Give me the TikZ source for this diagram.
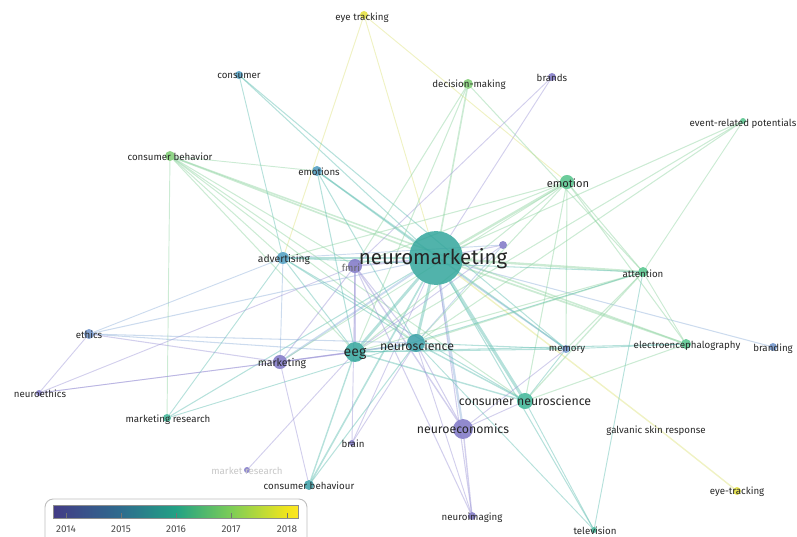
\documentclass[tikz,border=0pt]{standalone}
\usepackage{fontspec}
\setmainfont{Fira Sans}
\usetikzlibrary{backgrounds}

% node colours (by average year)
\definecolor{cpur}{HTML}{7E76C6}
\definecolor{cblu}{HTML}{6E93CB}
\definecolor{cblt}{HTML}{4C9CC0}
\definecolor{cteal}{HTML}{33A69C}
\definecolor{cteal2}{HTML}{3A9FA8}
\definecolor{ctg}{HTML}{3DB596}
\definecolor{cgt}{HTML}{52C38A}
\definecolor{cgrn}{HTML}{7DCC72}
\definecolor{cyel}{HTML}{E4E03A}
% link colours
\definecolor{eteal}{HTML}{5DBDB0}
\definecolor{egrn}{HTML}{8ED3A0}
\definecolor{epur}{HTML}{9C95D6}
\definecolor{eblu}{HTML}{8FB0DA}
\definecolor{eyel}{HTML}{DDE27A}
% colour bar
\definecolor{vb0}{HTML}{433B86}
\definecolor{vb1}{HTML}{2E6C8E}
\definecolor{vb2}{HTML}{22A184}
\definecolor{vb3}{HTML}{7CCD57}
\definecolor{vb4}{HTML}{F1E51D}
\definecolor{vb5}{HTML}{FDE725}
\pgfdeclarehorizontalshading{viridisbar}{100bp}{color(0bp)=(vb0); color(25bp)=(vb0); color(38.9bp)=(vb1); color(50.1bp)=(vb2); color(61.3bp)=(vb3); color(72.8bp)=(vb4); color(75bp)=(vb5); color(100bp)=(vb5)}

\tikzset{
  kw/.style={circle, inner sep=0pt, draw=none, fill opacity=0.85},
  lbl/.style={inner sep=0pt, text=black!85, font=\fontsize{8.3}{10}\selectfont},
  lblm/.style={lbl, font=\fontsize{10.5}{12}\selectfont},
  link/.style={line width=0.9pt, draw opacity=0.45, line cap=round},
  yr/.style={inner sep=0pt, text=black!70, font=\fontsize{8.5}{10}\selectfont}
}

\begin{document}
\begin{tikzpicture}[x=0.03cm,y=-0.03cm]
\useasboundingbox (0,0) rectangle (797,536);

% keywords
\node[kw, fill=cteal, minimum size=46pt] (nm) at (436,258) {};
\node[kw, fill=cyel, minimum size=6.8pt] (eyet) at (364,15) {};
\node[kw, fill=cblt, minimum size=6.8pt] (cons) at (239,75) {};
\node[kw, fill=cgrn, minimum size=8.5pt] (decm) at (468,84) {};
\node[kw, fill=cpur, minimum size=6.8pt] (brands) at (552,77) {};
\node[kw, fill=cgt, minimum size=5.1pt] (erp) at (743,121) {};
\node[kw, fill=cgrn, minimum size=8.5pt] (cbeh) at (170,156) {};
\node[kw, fill=cblt, minimum size=8.5pt] (emos) at (317,171) {};
\node[kw, fill=cgt, minimum size=12pt] (emo) at (567,182) {};
\node[kw, fill=cblt, minimum size=10.2pt] (adv) at (283,258) {};
\node[kw, fill=cpur, minimum size=12pt] (fmri) at (355,266) {};
\node[kw, fill=cpur, minimum size=6.8pt] (unk) at (503,245) {};
\node[kw, fill=cgt, minimum size=8.5pt] (att) at (643,272) {};
\node[kw, fill=cblu, minimum size=8.5pt] (ethics) at (89,334) {};
\node[kw, fill=cteal, minimum size=17pt] (eeg) at (355,352) {};
\node[kw, fill=cteal2, minimum size=15.4pt] (nsci) at (416,343) {};
\node[kw, fill=cpur, minimum size=12pt] (mkt) at (280,362) {};
\node[kw, fill=cblu, minimum size=6.8pt] (mem) at (566,349) {};
\node[kw, fill=cgt, minimum size=8.5pt] (eegr) at (686,344) {};
\node[kw, fill=cblu, minimum size=6.8pt] (brnd) at (773,347) {};
\node[kw, fill=cpur, minimum size=5.1pt] (neth) at (39,393) {};
\node[kw, fill=ctg, minimum size=6.8pt] (mres) at (167,418) {};
\node[kw, fill=ctg, minimum size=13.7pt] (cns) at (525,401) {};
\node[kw, fill=cpur, minimum size=17pt] (necon) at (463,429) {};
\coordinate (gsr) at (660,430);
\node[kw, fill=cpur, minimum size=5.1pt] (brain) at (352,443) {};
\node[kw, fill=cpur, minimum size=5.1pt] (mkres) at (247,470) {};
\node[kw, fill=cteal2, minimum size=8.5pt] (cbhv) at (309,485) {};
\node[kw, fill=cyel, minimum size=6.8pt] (eyetr) at (737,491) {};
\node[kw, fill=cpur, minimum size=6.8pt] (nimg) at (472,516) {};
\node[kw, fill=ctg, minimum size=5.1pt] (tv) at (594,530) {};

\begin{pgfonlayer}{background}
% links of neuromarketing
\draw[link,eyel,line width=0.8pt] (nm) -- (eyet);
\draw[link,eteal] (nm) -- (cons);
\draw[link,egrn,line width=1.4pt] (nm) -- (decm);
\draw[link,epur,line width=0.8pt] (nm) -- (brands);
\draw[link,egrn] (nm) -- (erp);
\draw[link,egrn,line width=1.4pt] (nm) -- (cbeh);
\draw[link,eteal,line width=1.2pt] (nm) -- (emos);
\draw[link,egrn,line width=2pt] (nm) -- (emo);
\draw[link,eteal,line width=1.6pt] (nm) -- (adv);
\draw[link,epur,line width=1.6pt] (nm) -- (fmri);
\draw[link,epur] (nm) -- (unk);
\draw[link,egrn,line width=2pt] (nm) -- (att);
\draw[link,eblu] (nm) -- (ethics);
\draw[link,eteal,line width=2.4pt] (nm) -- (eeg);
\draw[link,eteal,line width=2.4pt] (nm) -- (nsci);
\draw[link,eblu,line width=1.6pt] (nm) -- (mkt);
\draw[link,eblu,line width=1.2pt] (nm) -- (mem);
\draw[link,egrn,line width=1.5pt] (nm) -- (eegr);
\draw[link,eblu] (nm) -- (brnd);
\draw[link,eteal] (nm) -- (mres);
\draw[link,eteal,line width=2.6pt] (nm) -- (cns);
\draw[link,eblu,line width=2pt] (nm) -- (necon);
\draw[link,eyel,line width=1.2pt] (nm) -- (gsr);
\draw[link,epur,line width=0.8pt] (nm) -- (brain);
\draw[link,eteal,line width=1.4pt] (nm) -- (cbhv);
\draw[link,epur] (nm) -- (nimg);
\draw[link,eteal] (nm) -- (tv);
% other links
\draw[link,eyel,line width=0.8pt] (eyet) -- (adv);
\draw[link,eyel,line width=0.8pt] (eyet) -- (emo);
\draw[link,eyel,line width=1.2pt] (gsr) -- (eyetr);
\draw[link,eteal,line width=0.8pt] (cons) -- (adv);
\draw[link,eteal] (cons) -- (mem);
\draw[link,egrn] (decm) -- (att);
\draw[link,egrn] (decm) -- (fmri);
\draw[link,egrn] (decm) -- (eeg);
\draw[link,epur,line width=0.8pt] (brands) -- (fmri);
\draw[link,egrn,line width=0.8pt] (erp) -- (att);
\draw[link,egrn] (erp) -- (eeg);
\draw[link,egrn] (erp) -- (nsci);
\draw[link,egrn,line width=0.8pt] (cbeh) -- (emos);
\draw[link,egrn,line width=0.8pt] (cbeh) -- (mres);
\draw[link,egrn] (cbeh) -- (adv);
\draw[link,egrn] (cbeh) -- (fmri);
\draw[link,egrn] (cbeh) -- (eeg);
\draw[link,egrn] (cbeh) -- (nsci);
\draw[link,egrn] (cbeh) -- (cns);
\draw[link,egrn,line width=1.3pt] (cbeh) -- (eegr);
\draw[link,eteal] (emos) -- (eeg);
\draw[link,eteal] (emos) -- (nsci);
\draw[link,eteal,line width=1.2pt] (emos) -- (mem);
\draw[link,egrn] (emo) -- (att);
\draw[link,egrn] (emo) -- (eeg);
\draw[link,egrn] (emo) -- (nsci);
\draw[link,egrn] (emo) -- (cns);
\draw[link,egrn] (emo) -- (mem);
\draw[link,egrn] (emo) -- (adv);
\draw[link,egrn] (emo) -- (eegr);
\draw[link,egrn] (emo) -- (fmri);
\draw[link,egrn,line width=0.8pt] (emo) -- (mkt);
\draw[link,eblu,line width=0.8pt] (adv) -- (mkt);
\draw[link,eteal] (adv) -- (eeg);
\draw[link,eteal] (adv) -- (nsci);
\draw[link,eteal] (adv) -- (cns);
\draw[link,eteal] (adv) -- (att);
\draw[link,eblu,line width=0.8pt] (adv) -- (ethics);
\draw[link,eteal,line width=0.8pt] (adv) -- (mres);
\draw[link,eblu,line width=0.8pt] (adv) -- (unk);
\draw[link,epur] (fmri) -- (mkt);
\draw[link,epur] (fmri) -- (eeg);
\draw[link,epur] (fmri) -- (nsci);
\draw[link,epur,line width=1.2pt] (fmri) -- (necon);
\draw[link,epur,line width=0.8pt] (fmri) -- (brain);
\draw[link,epur] (fmri) -- (nimg);
\draw[link,epur,line width=0.8pt] (fmri) -- (neth);
\draw[link,epur,line width=0.8pt] (unk) -- (eeg);
\draw[link,eblu,line width=0.8pt] (unk) -- (nsci);
\draw[link,egrn] (att) -- (eeg);
\draw[link,egrn,line width=1.1pt] (att) -- (nsci);
\draw[link,egrn,line width=1.1pt] (att) -- (cns);
\draw[link,egrn] (att) -- (mem);
\draw[link,eteal,line width=0.8pt] (att) -- (tv);
\draw[link,eteal,line width=0.8pt] (att) -- (mres);
\draw[link,egrn,line width=0.8pt] (att) -- (eegr);
\draw[link,eblu] (ethics) -- (eeg);
\draw[link,eblu] (ethics) -- (nsci);
\draw[link,epur] (ethics) -- (mkt);
\draw[link,epur,line width=0.8pt] (ethics) -- (neth);
\draw[link,epur,line width=0.8pt] (neth) -- (mkt);
\draw[link,epur,line width=0.7pt] (neth) -- (eeg);
\draw[link,epur,line width=1.2pt] (eeg) -- (mkt);
\draw[link,eteal,line width=1.5pt] (eeg) -- (nsci);
\draw[link,eteal] (eeg) -- (mem);
\draw[link,eteal] (eeg) -- (eegr);
\draw[link,eteal,line width=1.2pt] (eeg) -- (cns);
\draw[link,eteal,line width=1.2pt] (eeg) -- (cbhv);
\draw[link,epur,line width=0.8pt] (eeg) -- (mkres);
\draw[link,eteal] (nsci) -- (mem);
\draw[link,eteal,line width=1.2pt] (nsci) -- (cns);
\draw[link,epur] (nsci) -- (necon);
\draw[link,epur,line width=0.8pt] (nsci) -- (nimg);
\draw[link,eteal,line width=0.8pt] (nsci) -- (tv);
\draw[link,eteal] (nsci) -- (cbhv);
\draw[link,epur,line width=0.8pt] (nsci) -- (brain);
\draw[link,epur,line width=0.8pt] (mkt) -- (cbhv);
\draw[link,epur] (mkt) -- (nsci);
\draw[link,epur,line width=0.8pt] (mem) -- (necon);
\draw[link,eteal,line width=0.8pt] (mem) -- (cns);
\draw[link,eteal,line width=0.8pt] (mem) -- (eegr);
\draw[link,egrn] (eegr) -- (cns);
\draw[link,eteal,line width=0.8pt] (cns) -- (tv);
\draw[link,epur,line width=0.8pt] (cns) -- (necon);
\draw[link,epur,line width=1.2pt] (necon) -- (nimg);
\end{pgfonlayer}

% labels
\node[lbl, text=black!60] (fmri-l) at (351,268) {fmri};
\node[lbl, font=\fontsize{17.5}{20}\selectfont] (nm-l) at (433,259) {neuromarketing};
\node[lbl] (eyet-l) at (362,18) {eye tracking};
\node[lbl] (cons-l) at (239,76) {consumer};
\node[lbl] (decm-l) at (469,85) {decision-making};
\node[lbl] (brands-l) at (552,78) {brands};
\node[lbl] (erp-l) at (743,124) {event-related potentials};
\node[lbl] (cbeh-l) at (170,157) {consumer behavior};
\node[lbl] (emos-l) at (319,172) {emotions};
\node[lbl, font=\fontsize{9.5}{11}\selectfont] (emo-l) at (568,183) {emotion};
\node[lbl, font=\fontsize{8.8}{10}\selectfont] (adv-l) at (284,260) {advertising};
\node[lbl] (att-l) at (643,274) {attention};
\node[lbl] (ethics-l) at (89,335) {ethics};
\node[lbl, font=\fontsize{12}{14}\selectfont] (eeg-l) at (355,354) {eeg};
\node[lblm] (nsci-l) at (417,346) {neuroscience};
\node[lbl, font=\fontsize{9}{10}\selectfont] (mkt-l) at (282,364) {marketing};
\node[lbl] (mem-l) at (567,350) {memory};
\node[lbl] (eegr-l) at (687,346) {electroencephalography};
\node[lbl] (brnd-l) at (773,349) {branding};
\node[lbl] (neth-l) at (40,394) {neuroethics};
\node[lbl] (mres-l) at (168,420) {marketing research};
\node[lblm] (cns-l) at (525,401) {consumer neuroscience};
\node[lblm] (necon-l) at (463,429) {neuroeconomics};
\node[lbl] (gsr-l) at (656,431) {galvanic skin response};
\node[lbl] (brain-l) at (353,444) {brain};
\node[lbl, text=black!22] (mkres-l) at (247,471) {market research};
\node[lbl] (cbhv-l) at (309,486) {consumer behaviour};
\node[lbl] (eyetr-l) at (737,492) {eye-tracking};
\node[lbl] (nimg-l) at (472,518) {neuroimaging};
\node[lbl] (tv-l) at (595,531) {television};

% colour legend
\draw[draw=black!25, line width=0.8pt, rounded corners=7pt, fill=white] (45,499) rectangle (307,548);
\shade[shading=viridisbar, draw=black!45, line width=0.5pt] (53,505) rectangle (298,518);
\draw[black!55, line width=0.5pt] (66,518) -- (66,513);
\draw[black!55, line width=0.5pt] (121,518) -- (121,513);
\draw[black!55, line width=0.5pt] (176,518) -- (176,513);
\draw[black!55, line width=0.5pt] (231,518) -- (231,513);
\draw[black!55, line width=0.5pt] (287,518) -- (287,513);
\node[yr] (y2014) at (66,529) {2014};
\node[yr] (y2015) at (121,529) {2015};
\node[yr] (y2016) at (176,529) {2016};
\node[yr] (y2017) at (231,529) {2017};
\node[yr] (y2018) at (287,529) {2018};

\end{tikzpicture}
\end{document}
